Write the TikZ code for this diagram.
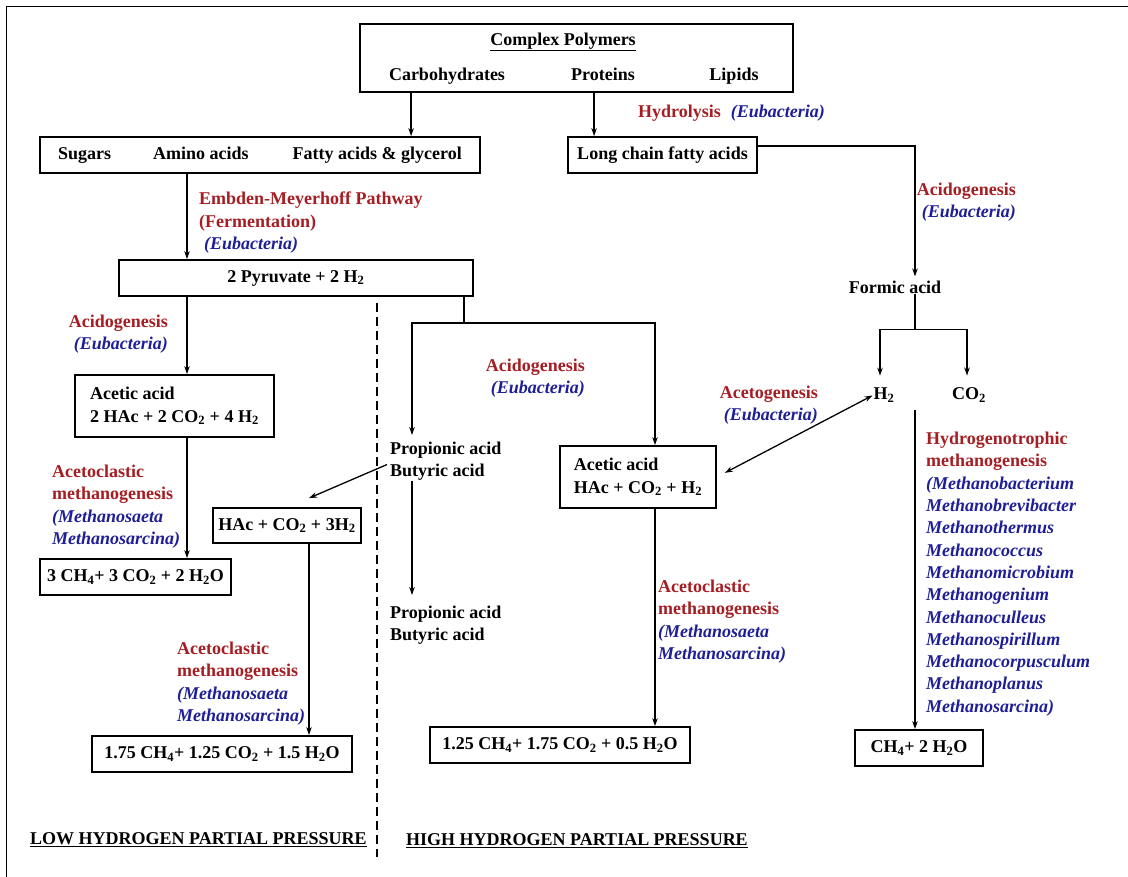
\documentclass[tikz,border=0pt]{standalone}
\usepackage{fontspec}
\setmainfont{Liberation Serif}
\usetikzlibrary{arrows.meta,calc}
\definecolor{pathred}{RGB}{165,30,35}
\definecolor{bugblue}{RGB}{30,30,150}
\newcommand{\procname}[1]{\textcolor{pathred}{#1}}
\newcommand{\bacname}[1]{\textcolor{bugblue}{\itshape #1}}

\begin{document}
\begin{tikzpicture}[x=1pt, y=-1pt, font=\fontsize{18}{22.3}\selectfont\bfseries]
  % Define box, label and arrow styles
  \tikzstyle{myboxreac} = [draw, line width=1.8pt, rectangle, inner sep=0pt]
  \tikzstyle{mytext} = [inner sep=0pt]
  \tikzstyle{mylabel} = [inner sep=0pt, align=left, anchor=north west]
  \tikzstyle{mylabelr} = [inner sep=0pt, align=right, anchor=north east]
  \tikzstyle{myline} = [line width=1.3pt]
  \tikzstyle{myarrow} = [line width=1.3pt, -{Stealth[length=8pt,width=5.5pt]}]
  \tikzstyle{mydarrow} = [line width=1.3pt, {Stealth[length=8pt,width=5.5pt]}-{Stealth[length=8pt,width=5.5pt]}]

  \useasboundingbox (0,0) rectangle (1128,877);
  \draw [line width=1pt] (6,877) -- (6,7) -- (1128,7);

  % Polymers and hydrolysis products
  \node [myboxreac, minimum width=433pt, minimum height=68pt] (poly) at (576.5,58) {};
  \node [mytext] (polyttl) at (563,42) {\underline{Complex Polymers}};
  \node [mytext, anchor=base] (carb) at (447,81) {Carbohydrates};
  \node [mytext, anchor=base] (prot) at (603,81) {Proteins};
  \node [mytext, anchor=base] (lip) at (734,81) {Lipids};
  \node [myboxreac, minimum width=440pt, minimum height=36pt] (sug) at (260,155)
    {Sugars\hspace{42pt}Amino acids\hspace{44pt}Fatty acids \& glycerol};
  \node [myboxreac, minimum width=189pt, minimum height=36pt] (lcfa) at (662.5,155) {Long chain fatty acids};
  \node [myboxreac, minimum width=354pt, minimum height=36pt] (pyr) at (296,278) {2 Pyruvate + 2 H\textsubscript{2}};

  % Low hydrogen side
  \node [myboxreac, minimum width=199pt, minimum height=62pt, align=left] (acetl) at (174.5,406)
    {Acetic acid\\2 HAc + 2 CO\textsubscript{2} + 4 H\textsubscript{2}};
  \node [myboxreac, minimum width=191pt, minimum height=36pt] (ch4a) at (135.5,577)
    {3 CH\textsubscript{4}+ 3 CO\textsubscript{2} + 2 H\textsubscript{2}O};
  \node [myboxreac, minimum width=148pt, minimum height=35pt] (hac) at (287,525.5)
    {HAc + CO\textsubscript{2} + 3H\textsubscript{2}};
  \node [myboxreac, minimum width=260pt, minimum height=36pt] (ch4b) at (222,754)
    {1.75 CH\textsubscript{4}+ 1.25 CO\textsubscript{2} + 1.5 H\textsubscript{2}O};

  % High hydrogen side
  \node [myboxreac, minimum width=156pt, minimum height=62pt, align=left] (acetm) at (638,477)
    {Acetic acid\\HAc + CO\textsubscript{2} + H\textsubscript{2}};
  \node [myboxreac, minimum width=260pt, minimum height=36pt] (ch4c) at (560,745)
    {1.25 CH\textsubscript{4}+ 1.75 CO\textsubscript{2} + 0.5 H\textsubscript{2}O};
  \node [myboxreac, minimum width=128pt, minimum height=36pt] (ch4d) at (919,748)
    {CH\textsubscript{4}+ 2 H\textsubscript{2}O};
  \node [mytext] (form) at (895,287) {Formic acid};
  \node [mytext] (htwo) at (884,395) {H\textsubscript{2}};
  \node [mytext] (cotwo) at (969,395) {CO\textsubscript{2}};
  \node [mylabel] (propa) at (390,442) {Propionic acid\\Butyric acid};
  \node [mylabel] (propb) at (390,606) {Propionic acid\\Butyric acid};

  % Process labels
  \node [mytext, anchor=west] (hydro) at (638,113) {\procname{Hydrolysis}\hspace{10pt}\bacname{(Eubacteria)}};
  \node [mylabel] (emp) at (199,192)
    {\procname{Embden-Meyerhoff Pathway}\\\procname{(Fermentation)}\\\hspace{5pt}\bacname{(Eubacteria)}};
  \node [mylabelr] (acidr) at (1016,183) {\procname{Acidogenesis}\\\bacname{(Eubacteria)}};
  \node [mylabelr] (acidl) at (168,315) {\procname{Acidogenesis}\\\bacname{(Eubacteria)}};
  \node [mylabelr] (acidm) at (585,359) {\procname{Acidogenesis}\\\bacname{(Eubacteria)}};
  \node [mylabelr] (acetog) at (818,386) {\procname{Acetogenesis}\\\bacname{(Eubacteria)}};
  \node [mylabel] (aclastl) at (52,465)
    {\procname{Acetoclastic}\\\procname{methanogenesis}\\\bacname{(Methanosaeta}\\\bacname{Methanosarcina)}};
  \node [mylabel] (aclastb) at (177,642)
    {\procname{Acetoclastic}\\\procname{methanogenesis}\\\bacname{(Methanosaeta}\\\bacname{Methanosarcina)}};
  \node [mylabel] (aclastm) at (658,580)
    {\procname{Acetoclastic}\\\procname{methanogenesis}\\\bacname{(Methanosaeta}\\\bacname{Methanosarcina)}};
  \node [mylabel] (hydrog) at (926,432)
    {\procname{Hydrogenotrophic}\\\procname{methanogenesis}\\\bacname{(Methanobacterium}\\
     \bacname{Methanobrevibacter}\\\bacname{Methanothermus}\\\bacname{Methanococcus}\\
     \bacname{Methanomicrobium}\\\bacname{Methanogenium}\\\bacname{Methanoculleus}\\
     \bacname{Methanospirillum}\\\bacname{Methanocorpusculum}\\\bacname{Methanoplanus}\\
     \bacname{Methanosarcina)}};

  % Pressure regimes
  \node [mytext, anchor=west] (lowpp) at (30,840) {\underline{LOW HYDROGEN PARTIAL PRESSURE}};
  \node [mytext, anchor=west] (highpp) at (406,841) {\underline{HIGH HYDROGEN PARTIAL PRESSURE}};
  \draw [line width=1.5pt, dash pattern=on 9pt off 5pt] (377,303) -- (377,857);

  % Connectors
  \coordinate (polyl) at ([xshift=52pt]poly.south west);
  \coordinate (polyr) at ([xshift=235pt]poly.south west);
  \draw [myarrow] (polyl) -- (polyl |- sug.north);
  \draw [myarrow] (polyr) -- (polyr |- lcfa.north);
  \draw [myarrow, shorten >=4pt] ([yshift=9pt]lcfa.east) -| ([xshift=20pt]form.north);
  \coordinate (sugout) at ([xshift=-73pt]sug.south);
  \draw [myarrow] (sugout) -- (sugout |- pyr.north);
  \coordinate (pyrl) at ([xshift=-109pt]pyr.south);
  \draw [myarrow] (pyrl) -- (pyrl |- acetl.north);
  \draw [myarrow] (pyrl |- acetl.south) -- (pyrl |- ch4a.north);
  \coordinate (pyrr) at ([xshift=168pt]pyr.south);
  \coordinate (pbus) at ([yshift=-26pt]pyrr);
  \draw [myline] (pyrr) -- (pbus);
  \draw [myarrow] (pbus) -| ([xshift=22pt,yshift=7pt]propa.north west);
  \draw [myarrow] (pbus) -| ([xshift=17pt]acetm.north);
  \draw [myarrow, shorten >=11pt] ([xshift=22pt]propa.south west) -- ([xshift=22pt]propb.north west);
  \draw [myarrow] ([yshift=-3pt,xshift=-3pt]propa.west) -- ([xshift=22pt,yshift=9pt]hac.north);
  \draw [myarrow] ([xshift=22pt]hac.south) -- ([xshift=87pt]ch4b.north);
  \draw [myarrow] ([xshift=17pt]acetm.south) -- ([xshift=95pt]ch4c.north);
  \coordinate (formout) at ([xshift=20pt]form.south);
  \coordinate (fbus) at ([yshift=-36pt]formout);
  \draw [myline] (formout) -- (fbus);
  \draw [myarrow, shorten >=12pt] (fbus) -| ([xshift=-4pt]htwo.north);
  \draw [myarrow, shorten >=12pt] (fbus) -| ([xshift=-2pt]cotwo.north);
  \draw [mydarrow, shorten >=9pt, shorten <=1pt] (htwo.west) -- (acetm.east);
  \coordinate (hydstart) at ($(fbus |- htwo.south)+(0,8)$);
  \draw [myarrow] (hydstart) -- (hydstart |- ch4d.north);
\end{tikzpicture}
\end{document}
